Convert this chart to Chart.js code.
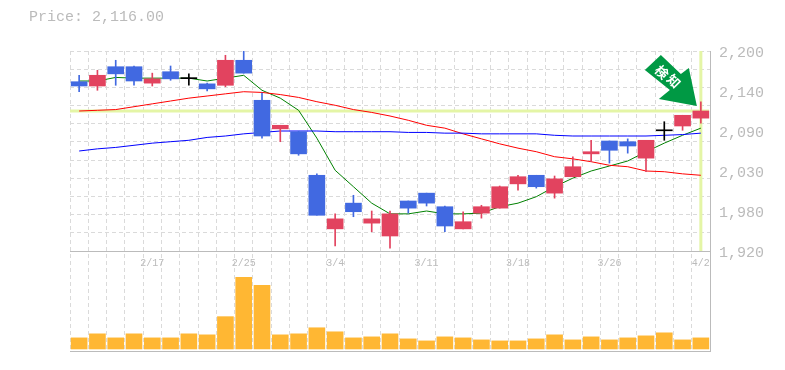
<!DOCTYPE html>
<html>
<head>
<meta charset="utf-8">
<title>Price</title>
<script src="https://cdn.jsdelivr.net/npm/chart.js@4/dist/chart.umd.min.js"></script>
<style>
    body { margin: 0; background: #fff; }
    #box { position: relative; width: 785px; height: 370px; }
    #priceLabel { position: absolute; left: 29px; top: 9px; font: 15px 'Liberation Mono', monospace; color: #bbb; white-space: pre; }
    canvas { display: block; }
</style>
</head>
<body>
<div id="box">
    <div id="priceLabel">Price: 2,116.00</div>
    <canvas id="chartCanvas" width="785" height="370"></canvas>
</div>
<script>
const dates = ['2/10', '2/12', '2/13', '2/14', '2/17', '2/18', '2/19', '2/20', '2/21', '2/25', '2/26', '2/27', '2/28', '3/3', '3/4', '3/5', '3/6', '3/7', '3/10', '3/11', '3/12', '3/13', '3/14', '3/17', '3/18', '3/19', '3/21', '3/24', '3/25', '3/26', '3/27', '3/28', '3/31', '4/1', '4/2']
const shownDates = ['2/17', '2/25', '3/4', '3/11', '3/18', '3/26', '4/2']

const opens = [2157, 2151, 2178, 2178, 2155, 2171, 2162, 2154, 2152, 2187, 2131, 2091, 2087, 2026, 1951, 1987, 1959, 1941, 1990, 2001, 1982, 1951, 1973, 1980, 2014, 2026, 2001, 2024, 2056, 2074, 2073, 2050, 2089, 2095, 2106]
const closes = [2151, 2166, 2168, 2158, 2161, 2161, 2162, 2147, 2187, 2169, 2081, 2096, 2056, 1970, 1965, 1975, 1965, 1972, 1980, 1987, 1955, 1961, 1982, 2010, 2024, 2010, 2021, 2038, 2059, 2061, 2067, 2075, 2089, 2110, 2116]
const highs = [2166, 2173, 2187, 2179, 2169, 2179, 2168, 2155, 2194, 2200, 2141, 2096, 2088, 2028, 1972, 1998, 1976, 1976, 1990, 2001, 1983, 1975, 1984, 2011, 2026, 2026, 2025, 2052, 2075, 2074, 2077, 2075, 2101, 2110, 2129]
const lows = [2143, 2145, 2152, 2152, 2151, 2159, 2152, 2144, 2150, 2169, 2078, 2073, 2054, 1970, 1927, 1968, 1947, 1924, 1973, 1983, 1947, 1951, 1966, 1980, 2005, 2008, 1994, 2024, 2045, 2043, 2057, 2031, 2075, 2089, 2099]

const ma5 = [2158, 2158, 2163, 2162, 2162, 2162, 2162, 2158, 2162, 2166, 2145, 2134, 2117, 2078, 2033, 2010, 1987, 1972, 1972, 1976, 1972, 1972, 1973, 1982, 1987, 1996, 2010, 2022, 2032, 2039, 2046, 2059, 2071, 2082, 2092]
const ma25 = [2116, 2117, 2118, 2122, 2126, 2130, 2134, 2137, 2140, 2143, 2142, 2139, 2135, 2129, 2124, 2118, 2114, 2109, 2103, 2096, 2092, 2084, 2077, 2070, 2064, 2059, 2052, 2049, 2045, 2040, 2038, 2032, 2031, 2028, 2026]
const ma75 = [2060, 2063, 2065, 2068, 2071, 2073, 2075, 2079, 2081, 2084, 2086, 2088, 2088, 2088, 2087, 2087, 2087, 2087, 2086, 2086, 2085, 2085, 2084, 2084, 2084, 2084, 2082, 2081, 2081, 2081, 2081, 2081, 2082, 2083, 2085]

const volumes = [11, 15, 11, 15, 11, 11, 15, 14, 32, 71, 63, 14, 15, 21, 17, 11, 12, 15, 10, 8, 12, 11, 9, 8, 8, 10, 14, 9, 12, 9, 11, 13, 16, 9, 11]

const priceLabelValues = [2200, 2144, 2088, 2032, 1976, 1920]
const priceLabels = ['2,200', '2,140', '2,090', '2,030', '1,980', '1,920']
const priceGridValues = [2200, 2174.5, 2149, 2123.6, 2098.2, 2072.7, 2047.3, 2021.8, 1996.4, 1970.9, 1945.5, 1920]
const currentPrice = 2116

const BLUE = '#4169E1'
const RED = '#E2435F'
const BLACK = '#000000'
const GRAY = '#BBBBBB'
const GRID = '#DADADA'
const MARK = '#E4F5A6'
const ARROW = '#009944'

function candleColor(i) {
    if (opens[i] === closes[i]) return BLACK
    return closes[i] > opens[i] ? RED : BLUE
}

let bodies = opens.map((o, i) => o === closes[i] ? [o - 0.7, o + 0.7] : [o, closes[i]])
let wicks = lows.map((l, i) => [l, highs[i]])
let colors = opens.map((o, i) => candleColor(i))

const marcas = {
    id: 'marcas',
    beforeDatasetsDraw(chart) {
        let { ctx, chartArea, scales } = chart
        let x = scales.x.getPixelForValue(dates.length - 1)
        let y = scales.y.getPixelForValue(currentPrice)
        ctx.save()
        ctx.fillStyle = MARK
        ctx.fillRect(chartArea.left, y - 1.5, chartArea.right - chartArea.left - 1, 3)
        ctx.fillRect(x - 1.5, chartArea.top, 3, scales.y.bottom - chartArea.top)
        ctx.restore()
    },
    afterDatasetsDraw(chart) {
        let { ctx, scales } = chart
        // seta "検知" apontando para o ultimo candle
        let tipX = scales.x.getPixelForValue(dates.length - 1) - 4
        let tipY = scales.y.getPixelForValue(currentPrice) - 5
        let pontos = [[-36, -51], [-16, -32], [-8, -38], [0, 0], [-38, -7], [-27, -16], [-52, -36]]
        ctx.save()
        ctx.fillStyle = ARROW
        ctx.beginPath()
        pontos.forEach((p, i) => i ? ctx.lineTo(tipX + p[0], tipY + p[1]) : ctx.moveTo(tipX + p[0], tipY + p[1]))
        ctx.closePath()
        ctx.fill()
        ctx.fillStyle = '#FFFFFF'
        ctx.font = "bold 13px 'Noto Sans CJK JP'"
        ctx.textAlign = 'center'
        ctx.textBaseline = 'middle'
        let letras = [['検', -35, -34], ['知', -23, -25]]
        letras.forEach(l => {
            ctx.save()
            ctx.translate(tipX + l[1], tipY + l[2])
            ctx.rotate(Math.PI / 4)
            ctx.fillText(l[0], 0, 0)
            ctx.restore()
        })
        ctx.restore()
    }
}

const fixaLargura = axis => { axis.width = 75 }

new Chart(document.getElementById('chartCanvas'), {
    data: {
        labels: dates,
        datasets: [
            { type: 'bar', label: 'Corpo', data: bodies, backgroundColor: colors, barThickness: 16, grouped: false, yAxisID: 'y', order: 1 },
            { type: 'bar', label: 'Pavio', data: wicks, backgroundColor: colors, barThickness: 1, grouped: false, yAxisID: 'y', order: 2 },
            { type: 'line', label: 'MA5', data: ma5, borderColor: '#008000', borderWidth: 1, pointRadius: 0, tension: 0, yAxisID: 'y', order: 5 },
            { type: 'line', label: 'MA25', data: ma25, borderColor: '#FF0000', borderWidth: 1, pointRadius: 0, tension: 0, yAxisID: 'y', order: 4 },
            { type: 'line', label: 'MA75', data: ma75, borderColor: '#0000FF', borderWidth: 1, pointRadius: 0, tension: 0, yAxisID: 'y', order: 3 },
            { type: 'bar', label: 'Volume', data: volumes, backgroundColor: '#FFB733', barThickness: 16, grouped: false, yAxisID: 'yVolume', order: 6 }
        ]
    },
    options: {
        responsive: false,
        animation: false,
        layout: { padding: { left: 70, right: 0, top: 51, bottom: 19 } },
        plugins: {
            legend: { display: false },
            tooltip: { enabled: false }
        },
        scales: {
            x: {
                type: 'category',
                offset: true,
                position: { y: 1920 },
                grid: { color: GRID, drawTicks: false, offset: true },
                border: { color: GRAY, dash: [4, 3] },
                ticks: {
                    autoSkip: false,
                    maxRotation: 0,
                    padding: 6,
                    color: GRAY,
                    font: { family: "'Liberation Mono'", size: 10 },
                    callback: function (value) {
                        let d = this.getLabelForValue(value)
                        return shownDates.includes(d) ? d : ''
                    }
                }
            },
            y: {
                type: 'linear',
                position: 'right',
                stack: 'painel',
                stackWeight: 2,
                weight: 1,
                min: 1920,
                max: 2200,
                afterFit: fixaLargura,
                afterBuildTicks: axis => {
                    axis.ticks = priceGridValues.concat(priceLabelValues.slice(1, 5)).map(v => ({ value: v }))
                },
                grid: {
                    drawTicks: false,
                    color: ctx => priceGridValues.includes(ctx.tick.value) ? GRID : 'rgba(0,0,0,0)'
                },
                border: { color: GRAY, dash: [4, 3] },
                ticks: {
                    autoSkip: false,
                    padding: 9,
                    labelOffset: 2,
                    color: GRAY,
                    font: { family: "'Liberation Mono'", size: 15 },
                    callback: function (value) {
                        let i = priceLabelValues.indexOf(value)
                        return i >= 0 ? priceLabels[i] : ''
                    }
                }
            },
            yVolume: {
                type: 'linear',
                position: 'right',
                stack: 'painel',
                stackWeight: 1,
                weight: 2,
                min: -2,
                max: 97,
                afterFit: fixaLargura,
                afterBuildTicks: axis => { axis.ticks = [{ value: -2 }] },
                grid: { drawTicks: false, color: GRAY },
                border: { color: GRAY },
                ticks: { display: false }
            }
        }
    },
    plugins: [marcas]
})
</script>
</body>
</html>
